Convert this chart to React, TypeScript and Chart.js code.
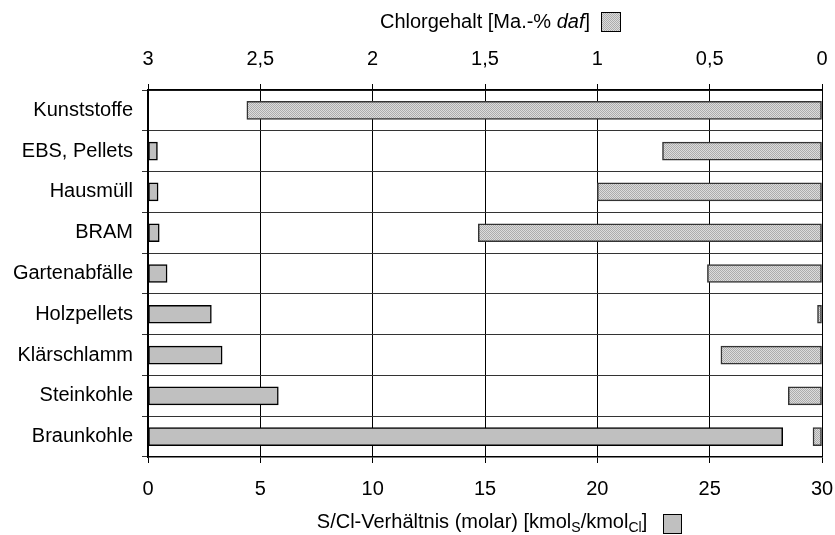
import React, { useEffect, useRef } from 'react';
import { Chart, registerables } from 'chart.js';

Chart.register(...registerables);

const categories = ['Kunststoffe', 'EBS, Pellets', 'Hausmüll', 'BRAM', 'Gartenabfälle', 'Holzpellets', 'Klärschlamm', 'Steinkohle', 'Braunkohle'];
// S/Cl-Verhältnis (molar), bottom axis
const scRatio: (number | null)[] = [null, 0.42, 0.45, 0.5, 0.85, 2.82, 3.3, 5.8, 28.25];
// Chlorgehalt [Ma.-% daf], top (reversed) axis
const chlorine = [2.56, 0.71, 1.0, 1.53, 0.51, 0.02, 0.45, 0.15, 0.04];

const scMin = 0, scMax = 30, scStep = 5;
const clMin = 0, clMax = 3, clStep = 0.5;

const topTitleParts = [
  { text: 'Chlorgehalt [Ma.-% ', italic: false },
  { text: 'daf', italic: true },
  { text: ']', italic: false },
];
const bottomTitleParts = [
  { text: 'S/Cl-Verhältnis (molar) [kmol', sub: false },
  { text: 'S', sub: true },
  { text: '/kmol', sub: false },
  { text: 'Cl', sub: true },
  { text: ']', sub: false },
];

const FONT = 'Arial, "Liberation Sans", sans-serif';
const FS = 20;

function makePattern(): CanvasPattern | string {
  const c = document.createElement('canvas');
  c.width = 2; c.height = 2;
  const g = c.getContext('2d');
  if (!g) return '#c0c0c0';
  g.fillStyle = '#dcdcdc';
  g.fillRect(0, 0, 2, 2);
  g.fillStyle = '#acacac';
  g.fillRect(0, 0, 1, 1);
  g.fillRect(1, 1, 1, 1);
  return g.createPattern(c, 'repeat') || '#c0c0c0';
}

export default function App() {
  const ref = useRef<HTMLCanvasElement | null>(null);

  useEffect(() => {
    if (!ref.current) return;
    const pattern = makePattern();

    const titlePlugin = {
      id: 'titles',
      afterDraw(chart: any) {
        const { ctx, chartArea } = chart;
        const cx = (chartArea.left + chartArea.right) / 2;
        ctx.save();
        ctx.fillStyle = '#000';
        ctx.textBaseline = 'alphabetic';
        // top title
        let widths = topTitleParts.map(p => {
          ctx.font = `${p.italic ? 'italic ' : ''}${FS}px ${FONT}`;
          return ctx.measureText(p.text).width;
        });
        let total = widths.reduce((a, b) => a + b, 0);
        let x = cx - total / 2;
        const topBase = 28;
        topTitleParts.forEach((p, i) => {
          ctx.font = `${p.italic ? 'italic ' : ''}${FS}px ${FONT}`;
          ctx.fillText(p.text, x, topBase);
          x += widths[i];
        });
        const bx1 = Math.round(x + 11);
        ctx.fillStyle = pattern as any;
        ctx.fillRect(bx1, 12, 19, 19);
        ctx.strokeStyle = '#000';
        ctx.lineWidth = 1;
        ctx.strokeRect(bx1 + 0.5, 12.5, 19, 19);

        // bottom title
        ctx.fillStyle = '#000';
        widths = bottomTitleParts.map(p => {
          ctx.font = `${p.sub ? 14 : FS}px ${FONT}`;
          return ctx.measureText(p.text).width;
        });
        total = widths.reduce((a, b) => a + b, 0);
        x = cx - 3 - total / 2;
        const botBase = 528;
        bottomTitleParts.forEach((p, i) => {
          ctx.font = `${p.sub ? 14 : FS}px ${FONT}`;
          ctx.fillText(p.text, x, p.sub ? botBase + 4 : botBase);
          x += widths[i];
        });
        const bx2 = Math.round(x + 16);
        ctx.fillStyle = '#c0c0c0';
        ctx.fillRect(bx2, 514, 18, 19);
        ctx.strokeStyle = '#000';
        ctx.strokeRect(bx2 + 0.5, 514.5, 18, 19);
        ctx.restore();
      },
    };

    const chart = new Chart(ref.current, {
      type: 'bar',
      data: {
        labels: categories,
        datasets: [
          {
            label: 'S/Cl-Verhältnis',
            data: scRatio as any,
            xAxisID: 'x',
            backgroundColor: '#c0c0c0',
            borderColor: '#000',
            borderWidth: 1.5,
            borderSkipped: false,
            barThickness: 18,
            grouped: false,
          } as any,
          {
            label: 'Chlorgehalt',
            data: chlorine,
            xAxisID: 'x2',
            backgroundColor: pattern as any,
            borderColor: '#333',
            borderWidth: 1.5,
            borderSkipped: false,
            barThickness: 18,
            grouped: false,
          } as any,
        ],
      },
      options: {
        indexAxis: 'y',
        responsive: true,
        maintainAspectRatio: false,
        animation: false,
        layout: { padding: { left: 0, right: 13, top: 0, bottom: 0 } },
        plugins: {
          legend: { display: false },
          tooltip: { enabled: false },
        },
        scales: {
          x: {
            type: 'linear',
            position: 'bottom',
            min: scMin,
            max: scMax,
            ticks: { stepSize: scStep, color: '#000', font: { size: FS, family: FONT }, padding: 14, maxRotation: 0 },
            grid: { color: '#000', lineWidth: 1, tickLength: 6, drawTicks: true },
            border: { color: '#000', width: 1.5 },
            afterFit: (s: any) => { s.height = 78; s.paddingRight = 0; s.paddingLeft = 0; },
          },
          x2: {
            type: 'linear',
            position: 'top',
            min: clMin,
            max: clMax,
            reverse: true,
            ticks: {
              stepSize: clStep,
              color: '#000',
              font: { size: FS, family: FONT },
              padding: 13,
              maxRotation: 0,
              callback: (v: any) => String(v).replace('.', ','),
            },
            grid: { drawOnChartArea: false, color: '#000', tickLength: 6 },
            border: { color: '#000', width: 1.5 },
            afterFit: (s: any) => { s.height = 90; s.paddingRight = 0; s.paddingLeft = 0; },
          },
          y: {
            position: 'left',
            ticks: { color: '#000', font: { size: FS, family: FONT }, padding: 9 },
            grid: { offset: true, color: '#333', lineWidth: 1, tickLength: 6 },
            border: { color: '#000', width: 1.5 },
            afterFit: (s: any) => { s.width = 148; s.paddingTop = 0; s.paddingBottom = 0; },
          },
        },
      },
      plugins: [titlePlugin],
    });
    return () => chart.destroy();
  }, []);

  return (
    <div style={{ position: 'fixed', left: 0, top: 0, width: 835, height: 535, background: '#fff' }}>
      <canvas ref={ref} />
    </div>
  );
}
